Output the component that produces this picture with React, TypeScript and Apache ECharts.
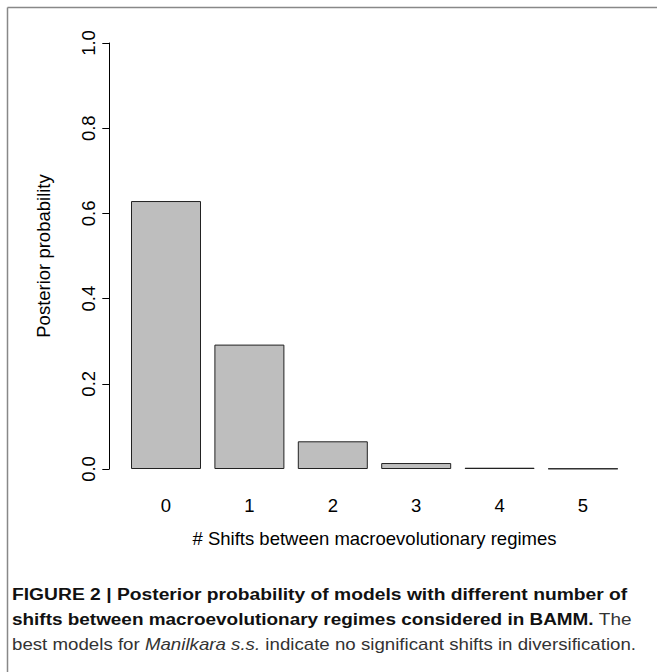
import React, { useEffect, useRef } from "react";
import * as echarts from "echarts";

const categories = ["0", "1", "2", "3", "4", "5"];
const values = [0.629, 0.292, 0.065, 0.014, 0.003, 0.001];
const yTicks = { min: 0, max: 1, interval: 0.2 };
const xTitle = "# Shifts between macroevolutionary regimes";
const yTitle = "Posterior probability";
const captionLine1 = "FIGURE 2 | Posterior probability of models with different number of";
const captionLine2Bold = "shifts between macroevolutionary regimes considered in BAMM.";
const captionLine2Reg = " The";
const captionLine3a = "best models for ";
const captionLine3i = "Manilkara s.s.";
const captionLine3b = " indicate no significant shifts in diversification.";

const CAP_FONT = "Liberation Sans, Arial, sans-serif";
const AX_FONT = "Liberation Sans, Arial, Helvetica, sans-serif";

function measure(parts: [string, string][]): number {
  const c = document.createElement("canvas");
  const ctx = c.getContext("2d");
  if (!ctx) return 0;
  let w = 0;
  for (const [t, f] of parts) {
    ctx.font = f;
    w += ctx.measureText(t).width;
  }
  return w;
}

export default function App() {
  const ref = useRef<HTMLDivElement>(null);
  useEffect(() => {
    if (!ref.current) return;
    const chart = echarts.init(ref.current, null, { renderer: "svg" });
    const capSize = 17;
    const fb = `bold ${capSize}px ${CAP_FONT}`;
    const fr = `${capSize}px ${CAP_FONT}`;
    const fi = `italic ${capSize}px ${CAP_FONT}`;
    const w1 = measure([[captionLine1, fb]]);
    const w2 = measure([[captionLine2Bold, fb], [captionLine2Reg, fr]]);
    const w3 = measure([[captionLine3a, fr], [captionLine3i, fi], [captionLine3b, fr]]);
    const sx1 = w1 > 0 ? 616 / w1 : 1;
    const sx2 = w2 > 0 ? 620 / w2 : 1;
    const sx3 = w3 > 0 ? 624 / w3 : 1;
    const capBase = { fontFamily: CAP_FONT, fontSize: capSize, fill: "#111" };
    const axFs = 18.5;
    chart.setOption({
      animation: false,
      backgroundColor: "#fff",
      textStyle: { fontFamily: AX_FONT },
      grid: { left: 124.3, top: 43, width: 500.4, height: 426 },
      xAxis: {
        type: "category",
        data: categories,
        axisLine: { show: false },
        axisTick: { show: false },
        axisLabel: { color: "#000", fontSize: axFs, margin: 27, fontFamily: AX_FONT },
        name: xTitle,
        nameLocation: "middle",
        nameGap: 60,
        nameTextStyle: { color: "#000", fontSize: axFs, fontFamily: AX_FONT },
      },
      yAxis: {
        type: "value",
        min: yTicks.min,
        max: yTicks.max,
        interval: yTicks.interval,
        offset: 15,
        splitLine: { show: false },
        axisLine: { show: true, lineStyle: { color: "#000", width: 1 } },
        axisTick: { show: true, length: 7, lineStyle: { color: "#000" } },
        axisLabel: {
          color: "#000",
          fontSize: axFs,
          rotate: 90,
          margin: 11,
          fontFamily: AX_FONT,
          formatter: (v: number) => v.toFixed(1),
        },
        name: yTitle,
        nameLocation: "middle",
        nameRotate: 90,
        nameGap: 56,
        nameTextStyle: { color: "#000", fontSize: axFs, fontFamily: AX_FONT },
      },
      series: [
        {
          type: "bar",
          data: values,
          barWidth: 70,
          itemStyle: { color: "#bebebe", borderColor: "#222", borderWidth: 1 },
        },
      ],
      graphic: [
        { type: "line", shape: { x1: 7.5, y1: 7.5, x2: 657, y2: 7.5 }, style: { stroke: "#888", lineWidth: 1.5 } },
        { type: "line", shape: { x1: 7.5, y1: 7.5, x2: 7.5, y2: 672 }, style: { stroke: "#888", lineWidth: 1.5 } },
        {
          type: "text",
          x: 12,
          y: 586,
          scaleX: sx1,
          style: {
            text: "{b|" + captionLine1 + "}",
            rich: { b: { ...capBase, fontWeight: "bold" } },
          },
        },
        {
          type: "text",
          x: 12,
          y: 611,
          scaleX: sx2,
          style: {
            text: "{b|" + captionLine2Bold + "}{r|" + captionLine2Reg + "}",
            rich: { b: { ...capBase, fontWeight: "bold" }, r: { ...capBase, fill: "#333" } },
          },
        },
        {
          type: "text",
          x: 12,
          y: 636,
          scaleX: sx3,
          style: {
            text: "{r|" + captionLine3a + "}{i|" + captionLine3i + "}{r|" + captionLine3b + "}",
            rich: { r: { ...capBase, fill: "#333" }, i: { ...capBase, fill: "#333", fontStyle: "italic" } },
          },
        },
      ],
    });
    return () => chart.dispose();
  }, []);
  return (
    <div
      ref={ref}
      style={{ position: "fixed", left: 0, top: 0, width: 657, height: 672, background: "#fff" }}
    />
  );
}
